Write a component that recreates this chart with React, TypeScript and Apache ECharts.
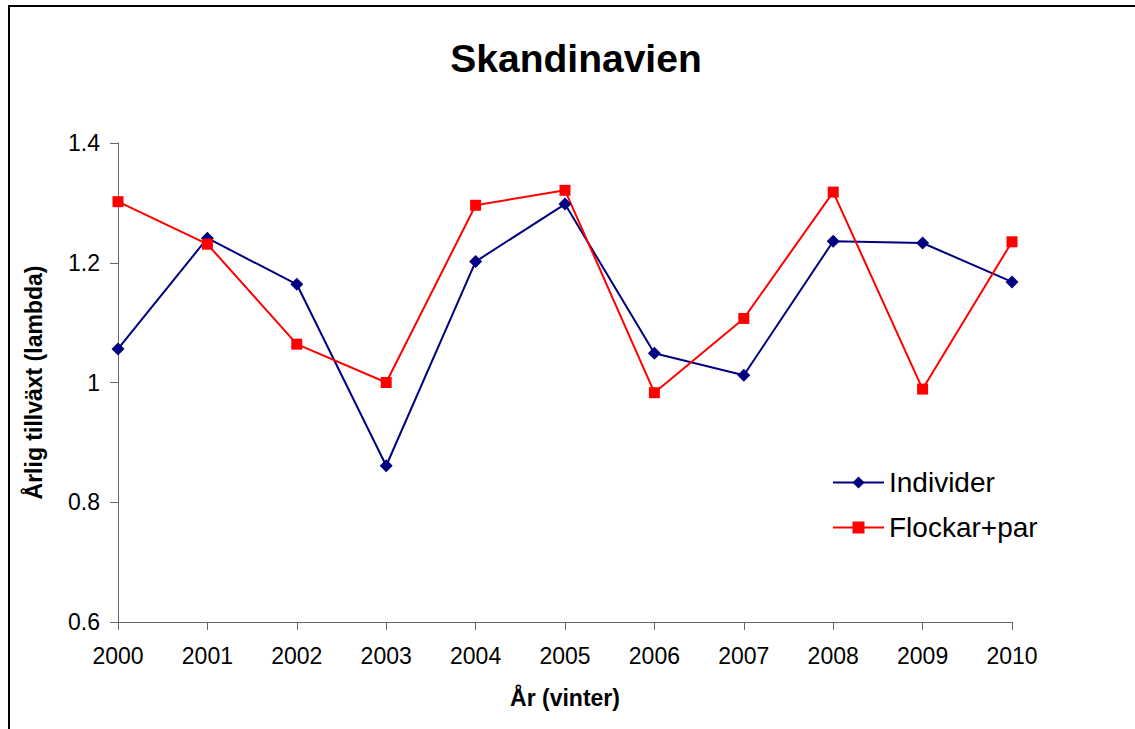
import React, { useEffect, useRef } from "react";
import * as echarts from "echarts";

const years = ["2000", "2001", "2002", "2003", "2004", "2005", "2006", "2007", "2008", "2009", "2010"];
const individer = [1.056, 1.241, 1.164, 0.861, 1.202, 1.298, 1.049, 1.012, 1.236, 1.233, 1.168];
const flockarPar = [1.302, 1.231, 1.064, 1.0, 1.296, 1.321, 0.983, 1.107, 1.318, 0.989, 1.235];
const yTicks = { min: 0.6, max: 1.4, interval: 0.2 };

const FONT = "Liberation Sans, Arial, sans-serif";

export default function App() {
  const ref = useRef<HTMLDivElement>(null);
  useEffect(() => {
    if (!ref.current) return;
    const chart = echarts.init(ref.current, null, { renderer: "svg" });
    chart.setOption({
      animation: false,
      backgroundColor: "#fff",
      title: {
        text: "Skandinavien",
        left: 571,
        top: 34,
        textAlign: "center",
        textStyle: { fontFamily: FONT, fontSize: 39, fontWeight: "bold", color: "#000" },
      },
      legend: {
        orient: "vertical",
        left: 832,
        top: 468,
        padding: 0,
        itemWidth: 51,
        itemHeight: 15,
        itemGap: 16,
        textStyle: { fontFamily: FONT, fontSize: 28, color: "#000", lineHeight: 29, padding: [0, 0, 0, 0] },
        data: ["Individer", "Flockar+par"],
      },
      grid: { left: 118, right: 123, top: 143, bottom: 107, containLabel: false },
      xAxis: {
        type: "category",
        data: years,
        boundaryGap: false,
        name: "År (vinter)",
        nameLocation: "middle",
        nameGap: 64,
        nameTextStyle: { fontFamily: FONT, fontSize: 23, fontWeight: "bold", color: "#000" },
        axisLine: { lineStyle: { color: "#666", width: 1 } },
        axisTick: { show: true, length: 8, alignWithLabel: true, lineStyle: { color: "#666" } },
        axisLabel: { fontFamily: FONT, fontSize: 23, color: "#000", margin: 22 },
        splitLine: { show: false },
      },
      yAxis: {
        type: "value",
        min: yTicks.min,
        max: yTicks.max,
        interval: yTicks.interval,
        name: "Årlig tillväxt (lambda)",
        nameLocation: "middle",
        nameGap: 73,
        nameTextStyle: { fontFamily: FONT, fontSize: 23, fontWeight: "bold", color: "#000" },
        axisLine: { show: true, lineStyle: { color: "#666", width: 1 } },
        axisTick: { show: true, length: 8, lineStyle: { color: "#666" } },
        axisLabel: {
          fontFamily: FONT,
          fontSize: 23,
          color: "#000",
          margin: 18,
          formatter: (v: number) => (Math.abs(v - 1) < 1e-9 ? "1" : v.toFixed(1)),
        },
        splitLine: { show: false },
      },
      graphic: [
        {
          type: "rect",
          shape: { x: 9, y: 6, width: 1140, height: 740 },
          style: { fill: "none", stroke: "#000", lineWidth: 2 },
          silent: true,
          z: 100,
        },
      ],
      series: [
        {
          name: "Individer",
          type: "line",
          data: individer,
          symbol: "diamond",
          symbolSize: 13,
          itemStyle: { color: "#000080" },
          lineStyle: { color: "#000080", width: 2 },
        },
        {
          name: "Flockar+par",
          type: "line",
          data: flockarPar,
          symbol: "rect",
          symbolSize: 11,
          itemStyle: { color: "#ff0000" },
          lineStyle: { color: "#ff0000", width: 2 },
        },
      ],
    });
    return () => chart.dispose();
  }, []);
  return (
    <div
      ref={ref}
      style={{ position: "absolute", left: 0, top: 0, width: 1135, height: 729 }}
    />
  );
}
